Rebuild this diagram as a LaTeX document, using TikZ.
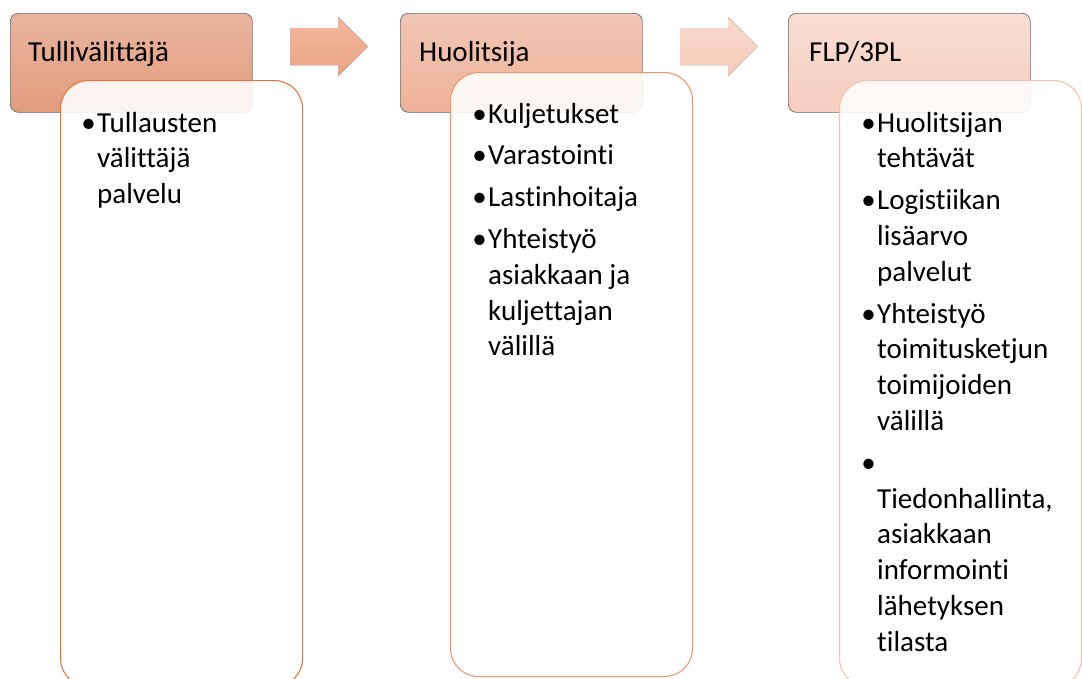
\documentclass[tikz,border=0pt]{standalone}
\usepackage{fontspec}
\setmainfont{Carlito}[Ligatures=NoCommon]
\usepackage{tikz}
\usetikzlibrary{positioning}
\definecolor{HeadOneTop}{RGB}{233, 180, 158}
\definecolor{HeadOneBot}{RGB}{226, 156, 126}
\definecolor{HeadTwoTop}{RGB}{241, 198, 180}
\definecolor{HeadTwoBot}{RGB}{238, 178, 152}
\definecolor{HeadThrTop}{RGB}{249, 222, 211}
\definecolor{HeadThrBot}{RGB}{246, 205, 189}
\definecolor{ArrOneTop}{RGB}{241, 184, 158}
\definecolor{ArrOneBot}{RGB}{235, 163, 132}
\definecolor{ArrTwoTop}{RGB}{249, 218, 204}
\definecolor{ArrTwoBot}{RGB}{246, 203, 185}
\definecolor{EdgeOne}{RGB}{227, 118, 56}
\definecolor{EdgeTwo}{RGB}{238, 150, 110}
\definecolor{EdgeThr}{RGB}{246, 192, 172}
\newcommand{\bulitem}{\leavevmode\llap{•\hspace{1.5pt}}}
\newcommand{\blockarrow}[2]{% vasen reuna x, keskikohta y
  (#1,#2-18.5) -- ++(48,0) -- ++(0,-11) -- ++(30,29.5) -- ++(-30,29.5)
  -- ++(0,-11) -- ++(-48,0) -- cycle}

\tikzset{
  headbox/.style={draw=black!60, line width=0.7pt, rounded corners=8pt,
    minimum width=242pt, minimum height=99pt, anchor=north west, inner sep=0pt},
  itembox/.style={fill=white, fill opacity=0.88, line width=1.1pt, rounded corners=28pt,
    minimum width=242pt, anchor=north west, inner sep=0pt},
  headtext/.style={anchor=base west, inner sep=0pt, font=\fontsize{29pt}{35.8pt}\selectfont},
  itemtext/.style={anchor=base west, inner sep=0pt, text width=220pt, align=flush left,
    font=\fontsize{29pt}{35.8pt}\selectfont}
}

\begin{document}
\begin{tikzpicture}[x=1pt, y=-1pt]
    \useasboundingbox (0,0) rectangle (1082,678);
    \clip (0,0) rectangle (1082,678);

    % otsikkolaatikot
    \node[headbox, top color=HeadOneTop, bottom color=HeadOneBot] (tulli) at (10,13) {};
    \node[headbox, top color=HeadTwoTop, bottom color=HeadTwoBot] (huol) at (400,13) {};
    \node[headbox, top color=HeadThrTop, bottom color=HeadThrBot] (flp) at (788,13) {};

    \node[headtext] (tulliHead) at (28,61) {Tullivälittäjä};
    \node[headtext] (huolHead) at (419,61) {Huolitsija};
    \node[headtext] (flpHead) at (809,61) {FLP/3PL};

    % nuolet
    \fill[top color=ArrOneTop, bottom color=ArrOneBot] \blockarrow{290}{46.5};
    \fill[top color=ArrTwoTop, bottom color=ArrTwoBot] \blockarrow{680}{46.5};

    % sisältölaatikot
    \node[itembox, draw=EdgeOne, minimum height=606pt] (tulliBox) at (60,80) {};
    \node[itembox, draw=EdgeTwo, minimum height=604pt] (huolBox) at (450,72) {};
    \node[itembox, draw=EdgeThr, minimum height=606pt] (flpBox) at (839,80) {};

    \node[itemtext] (tulliList) at (97,132) {\bulitem Tullausten\\
      välittäjä\\
      palvelu};

    \node[itemtext] (huolList) at (488,123) {\bulitem Kuljetukset\\[6pt]
      \bulitem Varastointi\\[6pt]
      \bulitem Lastinhoitaja\\[6pt]
      \bulitem Yhteistyö\\
      asiakkaan ja\\
      kuljettajan\\
      välillä};

    \node[itemtext] (flpList) at (877,132) {\bulitem Huolitsijan\\
      tehtävät\\[6pt]
      \bulitem Logistiikan\\
      lisäarvo\\
      palvelut\\[6pt]
      \bulitem Yhteistyö\\
      toimitusketjun\\
      toimijoiden\\
      välillä\\[6pt]
      \bulitem\mbox{}\\
      Tiedonhallinta,\\
      asiakkaan\\
      informointi\\
      lähetyksen\\
      tilasta};
\end{tikzpicture}
\end{document}
